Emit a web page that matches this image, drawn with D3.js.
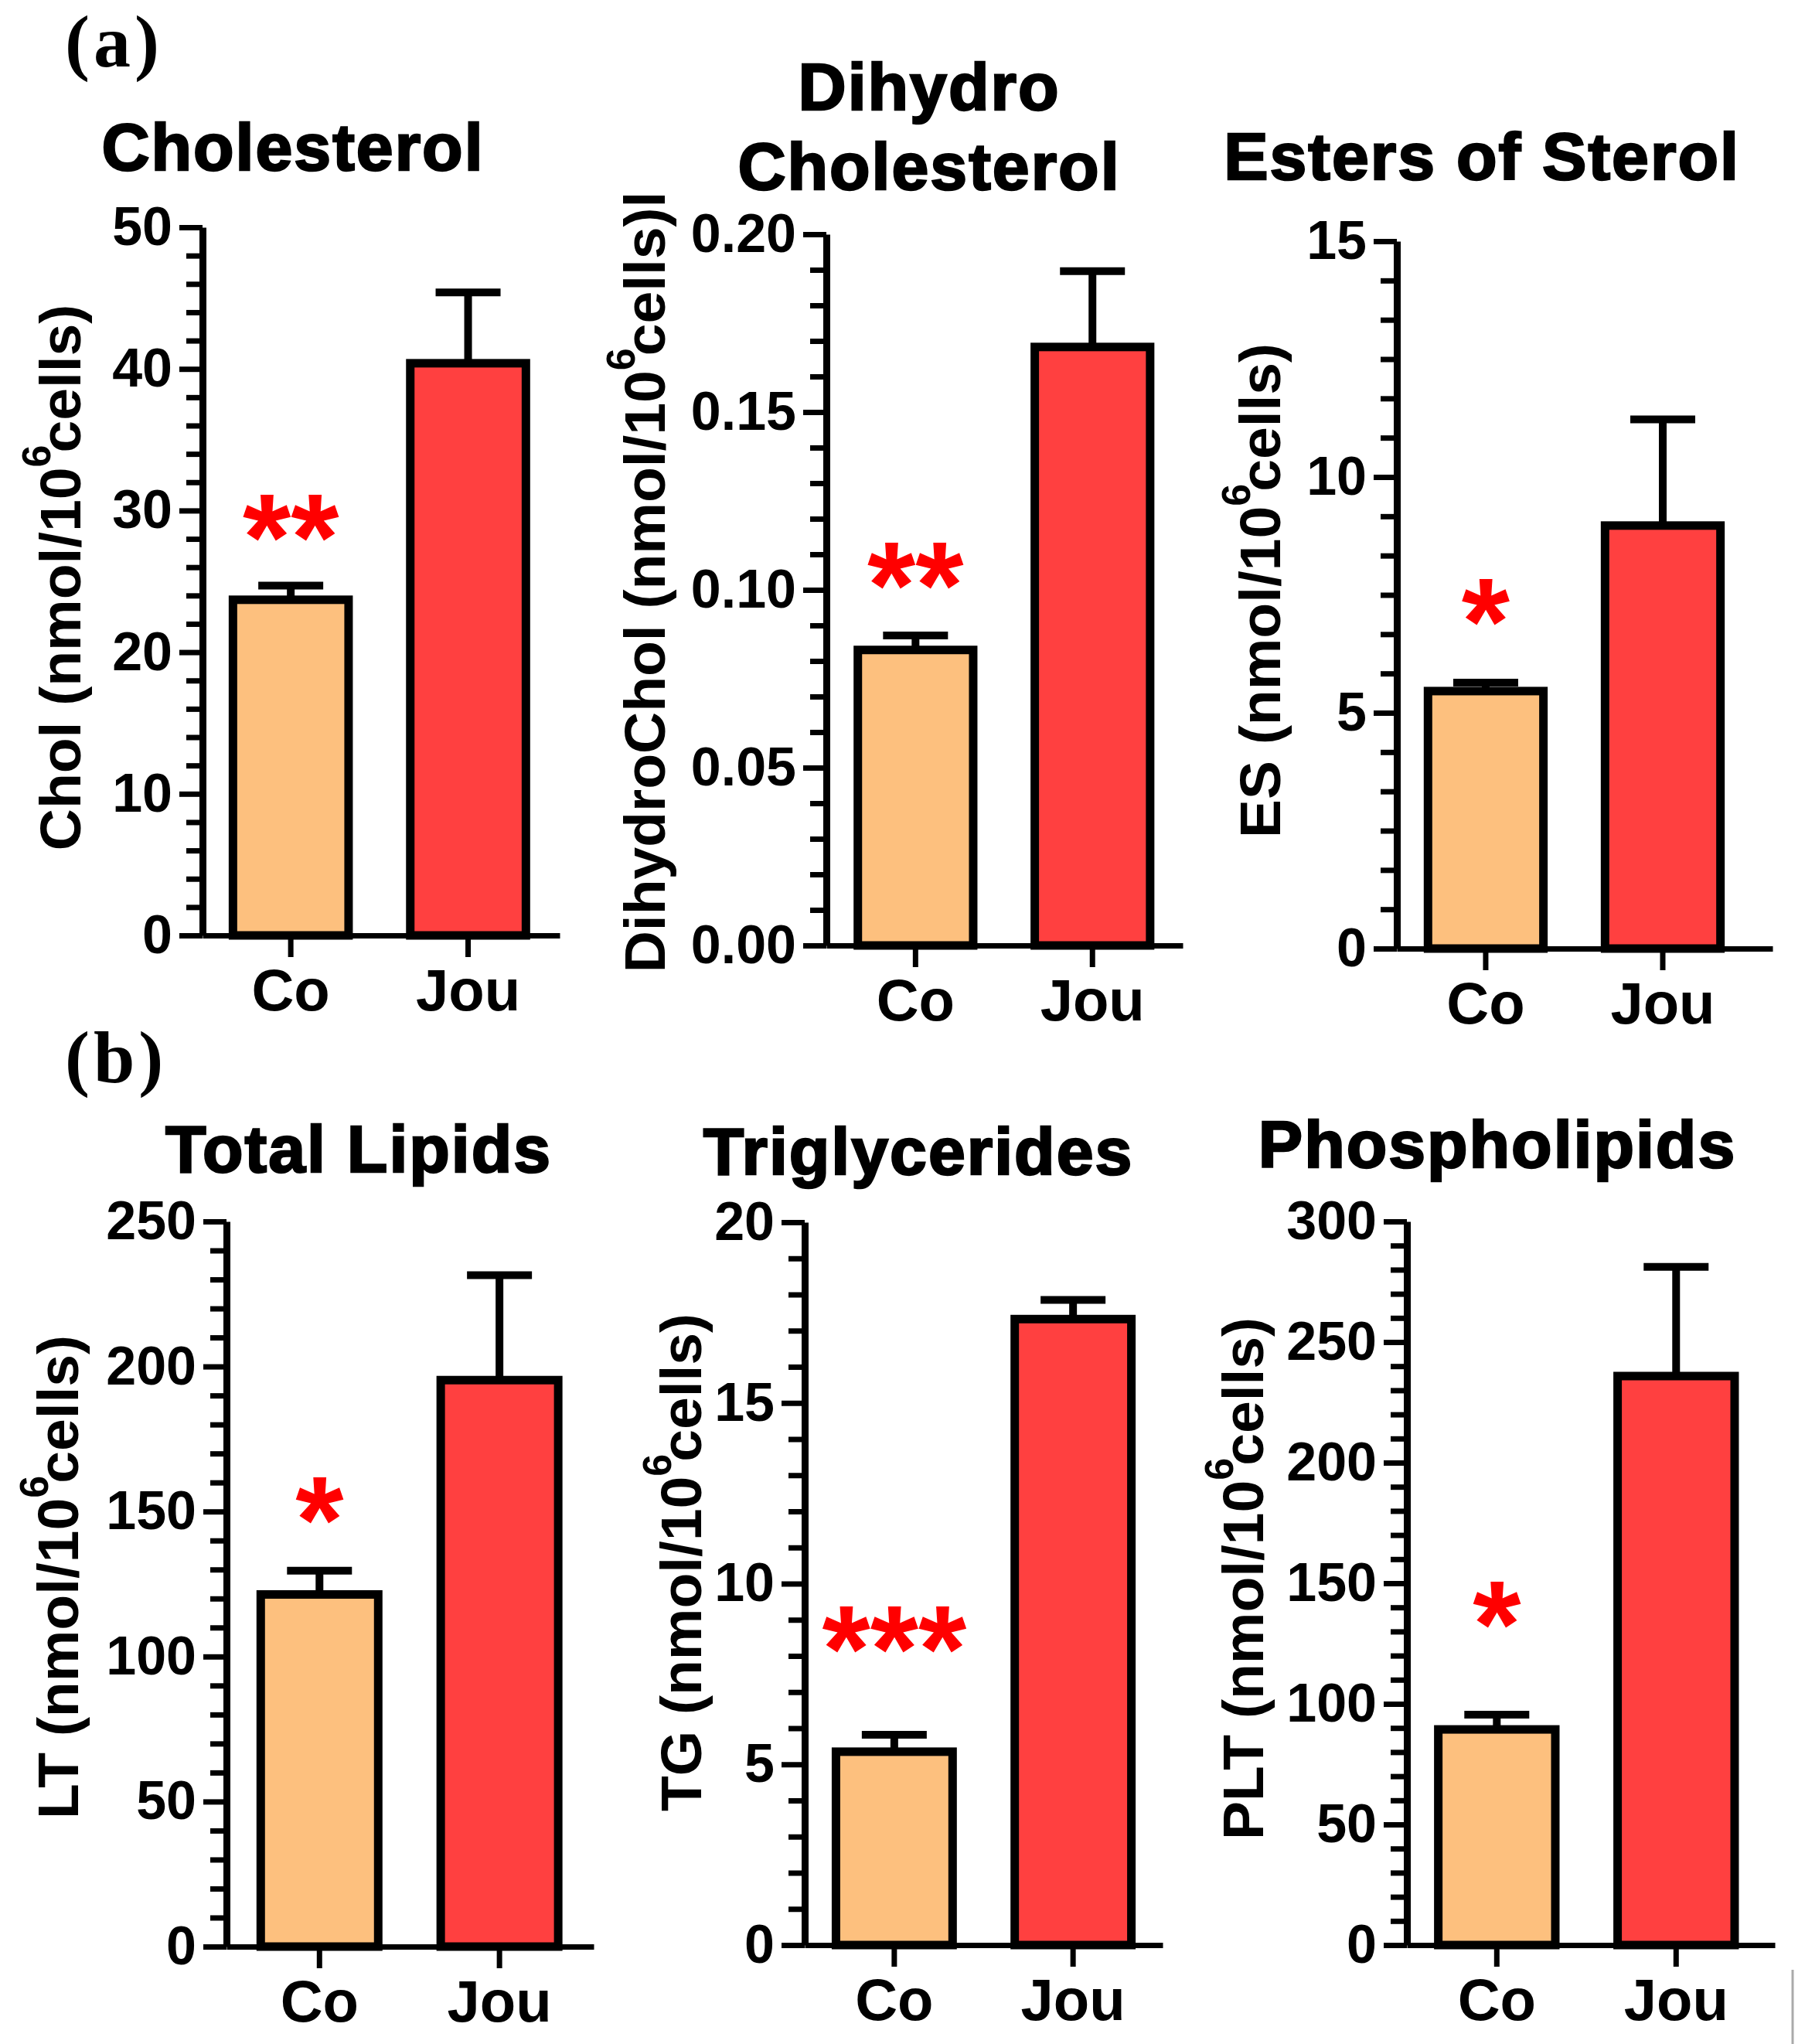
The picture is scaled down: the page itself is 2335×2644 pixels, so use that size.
<!DOCTYPE html>
<html>
<head>
<meta charset="utf-8">
<script src="https://cdn.jsdelivr.net/npm/d3@7"></script>
<style>
  body { margin: 0; background: #fff; }
  svg { display: block; }
  text { font-family: "Liberation Sans", Arial, sans-serif; font-weight: bold; fill: #000; }
</style>
</head>
<body>
<svg id="fig" width="2335" height="2644"></svg>
<script>
// groups and their colours
const groups = ["Co", "Jou"];
const groupColors = ["#FDC07E", "#FF4040"];

// one entry per panel: (a) row then (b) row
const titles = [["Cholesterol"], ["Dihydro", "Cholesterol"], ["Esters of Sterol"],
                ["Total Lipids"], ["Triglycerides"], ["Phospholipids"]];
const yLabels = ["Chol", "DihydroChol", "ES", "LT", "TG", "PLT"];
const yLabelEnds = ["", "l", "", "", "", ""];
const means = [[23.7, 40.4], [0.0831, 0.1683], [5.46, 8.97], [121.4, 195.3], [5.35, 17.32], [89.4, 235.9]];
const sems = [[1.0, 5.0], [0.0041, 0.0213], [0.18, 2.25], [8.2, 36.2], [0.47, 0.53], [6.1, 45.3]];
const yMax = [50, 0.2, 15, 250, 20, 300];
const majorTicks = [
  [0, 10, 20, 30, 40, 50],
  [0, 0.05, 0.10, 0.15, 0.20],
  [0, 5, 10, 15],
  [0, 50, 100, 150, 200, 250],
  [0, 5, 10, 15, 20],
  [0, 50, 100, 150, 200, 250, 300]
];
const minorPerMajor = [5, 5, 6, 5, 5, 5];
const tickFormats = ["d", ".2f", "d", "d", "d", "d"];
const stars = ["**", "**", "*", "*", "***", "*"];
const starLevels = [29.5, 0.1067, 7.34, 153.9, 8.72, 141];
const panelLetters = ["(a)", "(b)"];

// where each panel sits on the page
const layout = [
  { ax: 262,  y0: 1210, yTop: 294,  xEnd: 724,  po: 0.157, al: 0.47, tx: 379,  ty: [220],      lx: 104,  ly: 747 },
  { ax: 1069, y0: 1223, yTop: 303,  xEnd: 1530, po: 0.157, al: 0.49, tx: 1202, ty: [142, 245], lx: 860,  ly: 753 },
  { ax: 1807, y0: 1227, yTop: 312,  xEnd: 2293, po: 0.211, al: 0.36, tx: 1917, ty: [232],      lx: 1656, ly: 764 },
  { ax: 293,  y0: 2518, yTop: 1580, xEnd: 768,  po: 0.17,  al: 0.49, tx: 464,  ty: [1516],     lx: 101,  ly: 2040 },
  { ax: 1041, y0: 2516, yTop: 1581, xEnd: 1504, po: 0.151, al: 0.5,  tx: 1188, ty: [1519],     lx: 907,  ly: 2021 },
  { ax: 1820, y0: 2516, yTop: 1580, xEnd: 2296, po: 0.176, al: 0.43, tx: 1937, ty: [1510],     lx: 1634, ly: 2042 }
];
const letterPos = [[84, 86], [84, 1400]];

const barStroke = 11;
const capHalf = 42;
const starSize = 160;

const svg = d3.select("#fig");

panelLetters.forEach((t, i) => {
  svg.append("text")
    .attr("x", letterPos[i][0]).attr("y", letterPos[i][1])
    .style("font-family", "'Liberation Serif', 'Times New Roman', serif")
    .style("font-size", "96px")
    .style("letter-spacing", "5px")
    .text(t);
});

titles.forEach((title, i) => {
  const L = layout[i];
  const g = svg.append("g");

  const y = d3.scaleLinear().domain([0, yMax[i]]).range([L.y0, L.yTop]);
  const x = d3.scaleBand().domain(groups).range([L.ax, L.xEnd])
    .paddingInner(0.3).paddingOuter(L.po).align(L.al);

  const data = groups.map((k, j) => ({ k, v: means[i][j], e: sems[i][j], c: groupColors[j] }));

  // title (a light stroke makes it look heavier, like the original)
  title.forEach((line, li) => {
    g.append("text")
      .attr("x", L.tx).attr("y", L.ty[li])
      .attr("text-anchor", "middle")
      .attr("stroke", "#000").attr("stroke-width", 2.5)
      .style("font-size", "86px")
      .style("letter-spacing", "2px")
      .text(line);
  });

  // error bars (upper only)
  const eb = g.selectAll(".err").data(data).join("g").attr("class", "err")
    .attr("stroke", "#000").attr("stroke-width", 10);
  eb.append("line")
    .attr("x1", d => x(d.k) + x.bandwidth() / 2).attr("x2", d => x(d.k) + x.bandwidth() / 2)
    .attr("y1", d => y(d.v)).attr("y2", d => y(d.v + d.e));
  eb.append("line")
    .attr("x1", d => x(d.k) + x.bandwidth() / 2 - capHalf).attr("x2", d => x(d.k) + x.bandwidth() / 2 + capHalf)
    .attr("y1", d => y(d.v + d.e)).attr("y2", d => y(d.v + d.e));

  // bars
  g.selectAll(".bar").data(data).join("rect").attr("class", "bar")
    .attr("x", d => x(d.k) + barStroke / 2)
    .attr("width", x.bandwidth() - barStroke)
    .attr("y", d => y(d.v))
    .attr("height", d => y(0) - y(d.v))
    .attr("fill", d => d.c)
    .attr("stroke", "#000")
    .attr("stroke-width", barStroke);

  // minor ticks
  const majors = majorTicks[i];
  const minors = [];
  for (let m = 0; m < majors.length - 1; m++) {
    const step = (majors[m + 1] - majors[m]) / minorPerMajor[i];
    for (let k = 1; k < minorPerMajor[i]; k++) minors.push(majors[m] + k * step);
  }
  const minorAxis = g.append("g")
    .attr("transform", `translate(${L.ax},0)`)
    .call(d3.axisLeft(y).tickValues(minors).tickSize(21).tickFormat(""));
  minorAxis.select(".domain").remove();
  minorAxis.selectAll("line").attr("stroke", "#000").attr("stroke-width", 7);

  // y axis
  const yAxis = g.append("g")
    .attr("transform", `translate(${L.ax},0)`)
    .call(d3.axisLeft(y).tickValues(majors).tickSize(30).tickSizeOuter(0)
      .tickPadding(9).tickFormat(d3.format(tickFormats[i])));
  yAxis.select(".domain").attr("stroke", "#000").attr("stroke-width", 9);
  yAxis.selectAll(".tick line").attr("stroke", "#000").attr("stroke-width", 7);
  yAxis.selectAll(".tick text")
    .attr("fill", "#000")
    .style("font-family", "'Liberation Sans', Arial, sans-serif")
    .style("font-weight", "bold")
    .style("font-size", "70px");

  // x axis
  const xAxis = g.append("g")
    .attr("transform", `translate(0,${L.y0})`)
    .call(d3.axisBottom(x).tickSize(28).tickSizeOuter(0).tickPadding(15));
  xAxis.select(".domain").attr("stroke", "#000").attr("stroke-width", 7);
  xAxis.selectAll(".tick line").attr("stroke", "#000").attr("stroke-width", 7);
  xAxis.selectAll(".tick text")
    .attr("fill", "#000")
    .style("font-family", "'Liberation Sans', Arial, sans-serif")
    .style("font-weight", "bold")
    .style("font-size", "76px");

  // y axis label
  const lab = g.append("text")
    .attr("transform", `translate(${L.lx},${L.ly}) rotate(-90)`)
    .attr("text-anchor", "middle")
    .style("font-size", "75px");
  lab.append("tspan").text(yLabels[i] + " (nmol/10");
  lab.append("tspan").attr("dy", -39).style("font-size", "52px").text("6");
  lab.append("tspan").attr("dy", 39).attr("dx", -10).text("cells)" + yLabelEnds[i]);

  // significance stars above the control bar
  g.append("text")
    .attr("x", x("Co") + x.bandwidth() / 2)
    .attr("y", y(starLevels[i]) + 0.5 * starSize)
    .attr("text-anchor", "middle")
    .style("fill", "#FF0000")
    .style("font-size", starSize + "px")
    .text(stars[i]);
});

// thin grey edge mark at the bottom right
svg.append("line")
  .attr("x1", 2319).attr("x2", 2319).attr("y1", 2548).attr("y2", 2644)
  .attr("stroke", "#aaa").attr("stroke-width", 3);
</script>
</body>
</html>
